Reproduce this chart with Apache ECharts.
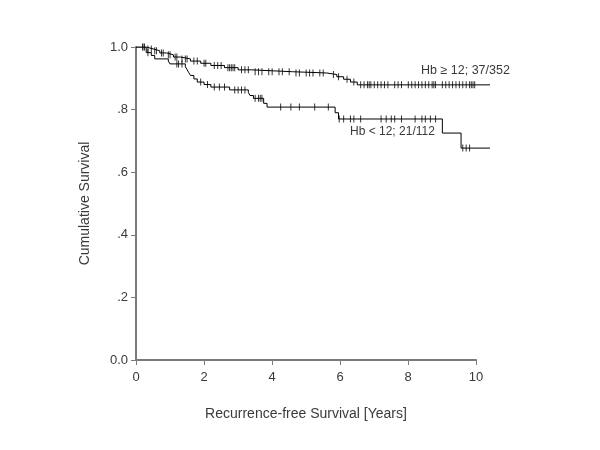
<!DOCTYPE html>
<html><head><meta charset="utf-8">
<script src="https://cdn.jsdelivr.net/npm/echarts@6/dist/echarts.min.js"></script>
<style>html,body{margin:0;padding:0;background:#fff}#c{width:600px;height:450px}</style>
</head><body><div id="c"></div>
<script>
// Kaplan-Meier steps: [time (years), cumulative survival]
var hiSteps = [[0,1.0],[0.3,0.994],[0.5,0.988],[0.7,0.981],[0.9,0.975],[1.1,0.968],[1.3,0.962],[1.6,0.955],[1.9,0.948],[2.2,0.941],[2.6,0.934],[3.0,0.927],[3.4,0.921],[4.6,0.917],[5.6,0.912],[5.9,0.905],[6.1,0.897],[6.3,0.888],[6.5,0.879]];
var hiEnd = 10.4;
var hiCensor = [0.2,0.25,0.35,0.45,0.55,0.6,0.75,0.8,0.95,1.0,1.15,1.2,1.35,1.45,1.5,1.7,1.8,2.0,2.05,2.3,2.4,2.5,2.7,2.75,2.8,2.85,2.9,3.1,3.2,3.3,3.5,3.6,3.7,3.9,4.0,4.2,4.3,4.5,4.7,4.8,5.0,5.1,5.2,5.4,5.5,5.8,5.95,6.2,6.4,6.6,6.7,6.8,6.85,6.9,7.0,7.1,7.2,7.3,7.4,7.6,7.7,7.8,8.0,8.1,8.2,8.3,8.4,8.5,8.6,8.7,8.75,8.8,9.0,9.1,9.2,9.3,9.4,9.5,9.6,9.7,9.8,9.85,9.9,9.95];

var loSteps = [[0,1.0],[0.3,0.982],[0.45,0.973],[0.55,0.962],[0.95,0.955],[1.0,0.946],[1.45,0.937],[1.5,0.928],[1.55,0.918],[1.6,0.909],[1.7,0.898],[1.8,0.888],[2.0,0.88],[2.2,0.872],[2.75,0.863],[3.3,0.855],[3.35,0.845],[3.45,0.836],[3.75,0.82],[3.85,0.808],[5.85,0.79],[5.95,0.77],[9.0,0.725],[9.55,0.677]];
var loEnd = 10.4;
var loCensor = [0.2,0.35,1.2,1.25,1.35,1.9,2.1,2.3,2.45,2.6,2.9,3.0,3.1,3.2,3.5,3.6,3.65,3.7,4.25,4.55,4.8,5.25,5.65,5.97,6.1,6.3,6.4,6.6,7.2,7.35,7.5,7.6,7.8,8.2,8.4,8.5,8.65,8.8,9.6,9.7,9.8];

var xTicks = [0,2,4,6,8,10];
var yTickLabels = {'0':'0.0','0.2':'.2','0.4':'.4','0.6':'.6','0.8':'.8','1':'1.0'};
var hiLabel = 'Hb \u2265 12; 37/352';
var loLabel = 'Hb < 12; 21/112';

function stepLine(steps, end){
  var out = [];
  for (var i=0;i<steps.length;i++){
    if (i>0) out.push([steps[i][0], steps[i-1][1]]);
    out.push(steps[i]);
  }
  out.push([end, steps[steps.length-1][1]]);
  return out;
}
function survAt(steps, t){
  var s = steps[0][1];
  for (var i=0;i<steps.length;i++){ if (steps[i][0] <= t) s = steps[i][1]; }
  return s;
}
function censorPts(steps, times){
  return times.map(function(t){ return [t, survAt(steps,t)]; });
}

var font = '"Liberation Sans", Arial, sans-serif';
var txt = '#3a3a3a';
var axisCol = '#7a7a7a';
// grid 0: visible axes 0..10; grid 1: same scale (34 px/yr) extended to 10.4 for the curves
var chart = echarts.init(document.getElementById('c'));
chart.setOption({
  animation:false,
  backgroundColor:'#fff',
  grid:[{left:136, right:124, top:47, bottom:90},
        {left:136, right:110, top:47, bottom:90}],
  xAxis:[{type:'value', gridIndex:0, min:0, max:10, interval:2,
    name:'Recurrence-free Survival [Years]', nameLocation:'middle', nameGap:47,
    nameTextStyle:{fontFamily:font, fontSize:14, color:txt},
    axisLine:{lineStyle:{color:axisCol, width:2}},
    axisTick:{show:true, length:5, lineStyle:{color:axisCol}},
    axisLabel:{fontFamily:font, fontSize:13, color:txt, margin:11},
    splitLine:{show:false}},
    {type:'value', gridIndex:1, min:0, max:hiEnd, show:false, splitLine:{show:false}}],
  yAxis:[{type:'value', gridIndex:0, min:0, max:1, interval:0.2,
    name:'Cumulative Survival', nameLocation:'middle', nameGap:44,
    nameTextStyle:{fontFamily:font, fontSize:14, color:txt},
    axisLine:{show:true, lineStyle:{color:axisCol, width:2}},
    axisTick:{show:true, length:5, lineStyle:{color:axisCol}},
    axisLabel:{fontFamily:font, fontSize:13, color:txt, margin:8,
      formatter:function(v){ var k = String(Math.round(v*10)/10); return yTickLabels[k]!==undefined?yTickLabels[k]:v; }},
    splitLine:{show:false}},
    {type:'value', gridIndex:1, min:0, max:1, show:false, splitLine:{show:false}}],
  series:[
    {type:'line', xAxisIndex:1, yAxisIndex:1, data:stepLine(hiSteps,hiEnd), showSymbol:false,
      lineStyle:{color:'#000', width:1}, silent:true},
    {type:'line', xAxisIndex:1, yAxisIndex:1, data:stepLine(loSteps,loEnd), showSymbol:false,
      lineStyle:{color:'#000', width:1}, silent:true},
    {type:'scatter', xAxisIndex:1, yAxisIndex:1, data:censorPts(hiSteps,hiCensor), symbol:'rect', symbolSize:[1,7],
      itemStyle:{color:'#000'}, silent:true},
    {type:'scatter', xAxisIndex:1, yAxisIndex:1, data:censorPts(loSteps,loCensor), symbol:'rect', symbolSize:[1,7],
      itemStyle:{color:'#000'}, silent:true}
  ],
  graphic:[
    {type:'text', left:421, top:64, style:{text:hiLabel, font:'12.5px '+font, fill:txt}},
    {type:'text', left:350, top:126, style:{text:loLabel, font:'12px '+font, fill:txt}}
  ]
});
</script></body></html>
